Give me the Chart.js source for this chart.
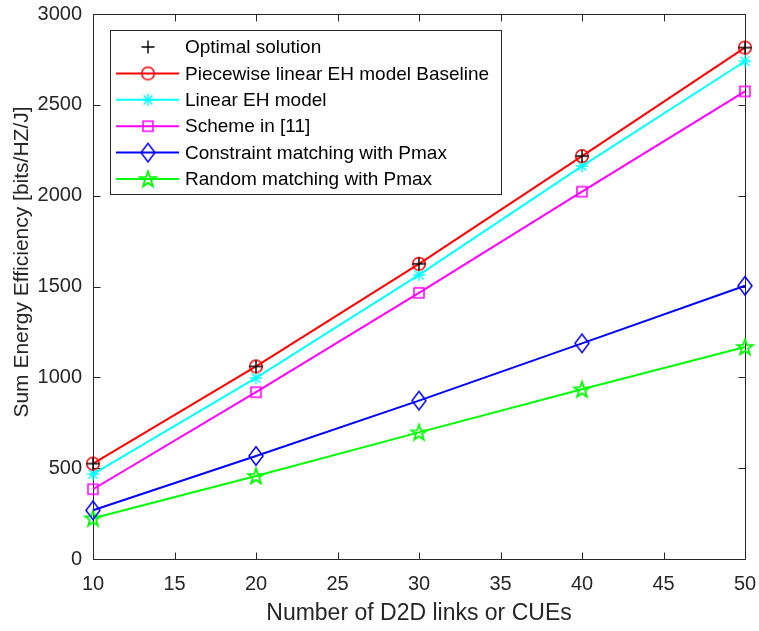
<!DOCTYPE html>
<html>
<head>
<meta charset="utf-8">
<script src="https://cdn.jsdelivr.net/npm/chart.js@4.4.0/dist/chart.umd.min.js"></script>
<style>
html, body { margin: 0; padding: 0; background: #ffffff; }
</style>
</head>
<body>
<canvas id="grafico" width="759" height="631"></canvas>
<script>
// datos
const numeroEnlaces = [10, 20, 30, 40, 50];
const solucionOptima = [525, 1060, 1625, 2218, 2815];
const modeloPorTramos = [525, 1060, 1625, 2218, 2815];
const modeloLineal = [467, 997, 1564, 2163, 2740];
const esquemaReferencia = [384, 918, 1465, 2022, 2574];
const emparejamientoRestringido = [268, 567, 872, 1187, 1504];
const emparejamientoAleatorio = [224, 457, 697, 934, 1167];

const ticksX = [10, 15, 20, 25, 30, 35, 40, 45, 50];
const ticksY = [0, 500, 1000, 1500, 2000, 2500, 3000];

const nombresSeries = [
    'Optimal solution',
    'Piecewise linear EH model Baseline',
    'Linear EH model',
    'Scheme in [11]',
    'Constraint matching with Pmax',
    'Random matching with Pmax'
];
const tituloX = 'Number of D2D links or CUEs';
const tituloY = 'Sum Energy Efficiency [bits/HZ/J]';

const fuente = "'Liberation Sans', Arial, sans-serif";
const colorEjes = '#262626';

// marcadores estilo matlab dibujados en un canvas pequeño
function crearMarcador(tipo, color) {
    let c = document.createElement('canvas');
    c.width = 22;
    c.height = 22;
    let g = c.getContext('2d');
    let m = 11;
    g.strokeStyle = color;
    g.lineWidth = 1.5;
    g.beginPath();
    if (tipo == 'mas') {
        g.lineWidth = 1.4;
        g.moveTo(m - 6.5, m); g.lineTo(m + 6.5, m);
        g.moveTo(m, m - 6.5); g.lineTo(m, m + 6.5);
    } else if (tipo == 'circulo') {
        g.arc(m, m, 6.3, 0, Math.PI * 2);
    } else if (tipo == 'asterisco') {
        g.lineWidth = 1.4;
        let r = 6.3;
        for (let k = 0; k < 4; k++) {
            let ang = k * Math.PI / 4;
            g.moveTo(m - r * Math.cos(ang), m - r * Math.sin(ang));
            g.lineTo(m + r * Math.cos(ang), m + r * Math.sin(ang));
        }
    } else if (tipo == 'cuadrado') {
        g.rect(m - 5, m - 5, 10, 10);
    } else if (tipo == 'diamante') {
        g.moveTo(m, m - 9.3); g.lineTo(m + 7, m);
        g.lineTo(m, m + 9.3); g.lineTo(m - 7, m);
        g.closePath();
    } else if (tipo == 'estrella') {
        g.lineWidth = 1.8;
        for (let k = 0; k < 10; k++) {
            let r = (k % 2 == 0) ? 8.2 : 3.3;
            let ang = -Math.PI / 2 + k * Math.PI / 5;
            let px = m + r * Math.cos(ang);
            let py = m + 0.6 + r * Math.sin(ang);
            if (k == 0) g.moveTo(px, py); else g.lineTo(px, py);
        }
        g.closePath();
    }
    g.stroke();
    return c;
}

function crearSerie(nombre, valores, color, marcador, conLinea) {
    return {
        label: nombre,
        data: valores.map((v, i) => ({ x: numeroEnlaces[i], y: v })),
        borderColor: color,
        backgroundColor: color,
        borderWidth: 2,
        showLine: conLinea,
        pointStyle: crearMarcador(marcador, color),
        pointRadius: 8,
        pointHoverRadius: 8,
        clip: false,
        tension: 0
    };
}

const series = [
    crearSerie(nombresSeries[0], solucionOptima, '#000000', 'mas', false),
    crearSerie(nombresSeries[1], modeloPorTramos, '#ff0000', 'circulo', true),
    crearSerie(nombresSeries[2], modeloLineal, '#00ffff', 'asterisco', true),
    crearSerie(nombresSeries[3], esquemaReferencia, '#ff00ff', 'cuadrado', true),
    crearSerie(nombresSeries[4], emparejamientoRestringido, '#0000ff', 'diamante', true),
    crearSerie(nombresSeries[5], emparejamientoAleatorio, '#00ff00', 'estrella', true)
];

// caja de ejes con marcas hacia dentro
const marcoEjes = {
    id: 'marcoEjes',
    beforeDatasetsDraw(chart) {
        const ctx = chart.ctx;
        const a = chart.chartArea;
        const izq = Math.round(a.left) + 0.5;
        const der = Math.round(a.right) + 0.5;
        const arr = Math.round(a.top) + 0.5;
        const abj = Math.round(a.bottom) + 0.5;
        ctx.save();
        ctx.strokeStyle = colorEjes;
        ctx.lineWidth = 1;
        ctx.beginPath();
        ctx.rect(izq, arr, der - izq, abj - arr);
        for (let v of ticksX) {
            let px = Math.round(chart.scales.x.getPixelForValue(v)) + 0.5;
            ctx.moveTo(px, abj); ctx.lineTo(px, abj - 7);
            ctx.moveTo(px, arr); ctx.lineTo(px, arr + 7);
        }
        for (let v of ticksY) {
            let py = Math.round(chart.scales.y.getPixelForValue(v)) + 0.5;
            ctx.moveTo(izq, py); ctx.lineTo(izq + 7, py);
            ctx.moveTo(der, py); ctx.lineTo(der - 7, py);
        }
        ctx.stroke();
        ctx.restore();
    }
};

// leyenda y titulos de ejes
const leyendaYTitulos = {
    id: 'leyendaYTitulos',
    afterDraw(chart) {
        const ctx = chart.ctx;
        ctx.save();
        ctx.fillStyle = '#ffffff';
        ctx.fillRect(110, 30, 391, 164);
        ctx.strokeStyle = colorEjes;
        ctx.lineWidth = 1;
        ctx.strokeRect(110.5, 30.5, 391, 164);
        ctx.font = '19px ' + fuente;
        ctx.textBaseline = 'middle';
        ctx.textAlign = 'left';
        chart.data.datasets.forEach((ds, i) => {
            let y = 47 + i * 26.4;
            if (ds.showLine) {
                ctx.strokeStyle = ds.borderColor;
                ctx.lineWidth = 2;
                ctx.beginPath();
                ctx.moveTo(116, y); ctx.lineTo(179, y);
                ctx.stroke();
            }
            let img = ds.pointStyle;
            ctx.drawImage(img, 148 - img.width / 2, y - img.height / 2);
            ctx.fillStyle = '#000000';
            ctx.fillText(ds.label, 185, y + 1);
        });

        ctx.fillStyle = colorEjes;
        ctx.textAlign = 'center';
        ctx.textBaseline = 'middle';
        ctx.font = '23px ' + fuente;
        ctx.fillText(tituloX, (chart.chartArea.left + chart.chartArea.right) / 2, 614);
        ctx.font = '21px ' + fuente;
        ctx.translate(22, 262);
        ctx.rotate(-Math.PI / 2);
        ctx.fillText(tituloY, 0, 0);
        ctx.restore();
    }
};

const fondoBlanco = {
    id: 'fondoBlanco',
    beforeDraw(chart) {
        const ctx = chart.ctx;
        ctx.save();
        ctx.fillStyle = '#ffffff';
        ctx.fillRect(0, 0, chart.width, chart.height);
        ctx.restore();
    }
};

new Chart(document.getElementById('grafico').getContext('2d'), {
    type: 'line',
    data: { datasets: series },
    options: {
        responsive: false,
        animation: false,
        layout: { padding: { top: 14, right: 14, left: 0, bottom: 0 } },
        plugins: {
            legend: { display: false },
            tooltip: { enabled: false }
        },
        scales: {
            x: {
                type: 'linear',
                min: 10,
                max: 50,
                grid: { display: false, drawTicks: false },
                border: { display: false },
                afterBuildTicks: (scale) => { scale.ticks = ticksX.map(v => ({ value: v })); },
                afterFit: (scale) => { scale.height = 72; scale.paddingLeft = 0; scale.paddingRight = 0; },
                ticks: {
                    color: colorEjes,
                    font: { family: fuente, size: 20 },
                    padding: 13,
                    maxRotation: 0,
                    callback: (v) => String(v)
                }
            },
            y: {
                min: 0,
                max: 3000,
                grid: { display: false, drawTicks: false },
                border: { display: false },
                afterBuildTicks: (scale) => { scale.ticks = ticksY.map(v => ({ value: v })); },
                afterFit: (scale) => { scale.width = 93; scale.paddingTop = 0; scale.paddingBottom = 0; },
                ticks: {
                    color: colorEjes,
                    font: { family: fuente, size: 20 },
                    padding: 11,
                    callback: (v) => String(v)
                }
            }
        }
    },
    plugins: [fondoBlanco, marcoEjes, leyendaYTitulos]
});
</script>
</body>
</html>
